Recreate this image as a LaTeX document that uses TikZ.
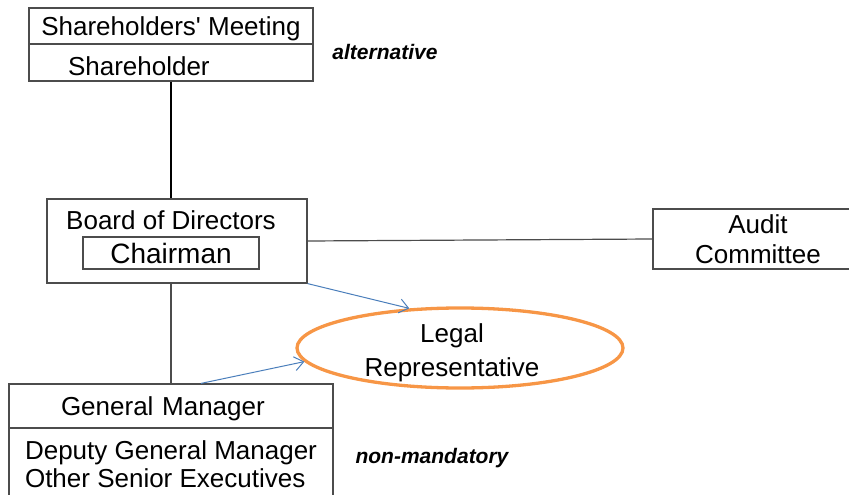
\documentclass[tikz,border=0pt]{standalone}
\usepackage{fontspec}
\setmainfont{Liberation Sans}
\usetikzlibrary{shapes, arrows.meta, calc, positioning}
\definecolor{legalorange}{HTML}{F79646}
\definecolor{arrowblue}{HTML}{4A7EBB}
\tikzset{
  box/.style={draw=black!70, line width=1.2pt, inner sep=0pt},
  conn/.style={draw=black!70, line width=1.2pt},
  arr/.style={draw=arrowblue, line width=1pt, -{Straight Barb[length=9pt, width=14pt]}},
  note/.style={font=\fontsize{21}{25}\selectfont\bfseries\itshape},
}

\begin{document}
\begin{tikzpicture}[x=1pt, y=-1pt, font=\fontsize{26}{30}\selectfont]
    \useasboundingbox (0,0) rectangle (849,495);
    \clip (0,0) rectangle (849,495);

    \coordinate (a01) at (171, 26);
    \coordinate (a02) at (171, 62.5);
    \coordinate (a03) at (177, 241);
    \coordinate (a04) at (171, 253);
    \coordinate (a05) at (758, 239);
    \coordinate (a06) at (460, 348);
    \coordinate (a07) at (171, 406);
    \coordinate (a08) at (171, 464);

    \coordinate (l01) at (171, 220);
    \coordinate (l02) at (385, 52);
    \coordinate (l03) at (432, 458);
    \coordinate (l04) at (452, 353);

    \node[box, minimum width=284, minimum height=36, text height=20, text depth=0] (shm) at (a01) {Shareholders\textquotesingle{} Meeting};
    \node[box, minimum width=284, minimum height=37, text width=206, align=left, text height=25, text depth=0] (sh) at (a02) {Shareholder};
    \node[box, minimum width=260, minimum height=84] (board) at (a03) {};
    \node (bod) at (l01) {Board of Directors};
    \node[box, minimum width=176, minimum height=32, font=\fontsize{28}{32}\selectfont] (chair) at (a04) {Chairman};
    \node[box, minimum width=210, minimum height=60, align=center] (audit) at (a05) {Audit\\Committee};
    \node[ellipse, draw=legalorange, line width=3.3pt, minimum width=326, minimum height=80, inner sep=0pt] (legal) at (a06) {};
    \node[align=center, font=\fontsize{26}{34}\selectfont] (legaltxt) at (l04) {Legal\\Representative};
    \node[box, minimum width=324, minimum height=44, text width=220, align=left, text height=19, text depth=1] (gm) at (a07) {General Manager};
    \node[box, minimum width=324, minimum height=72, align=left, font=\fontsize{26}{28}\selectfont] (dep) at (a08) {Deputy General Manager\\Other Senior Executives};

    \node[note] (alt) at (l02) {alternative};
    \node[note] (nonm) at (l03) {non-mandatory};

    \draw[line width=2pt] (sh.south) -- (sh.south |- board.north);
    \draw[conn] (board.south -| sh.south) -- (gm.north -| sh.south);
    \draw[conn] (board.east) -- (audit.west);

    \draw[arr] (board.south east) -- (legal.142);
    \draw[arr] ([xshift=30pt]gm.north) -- (legal.185);
\end{tikzpicture}
\end{document}
